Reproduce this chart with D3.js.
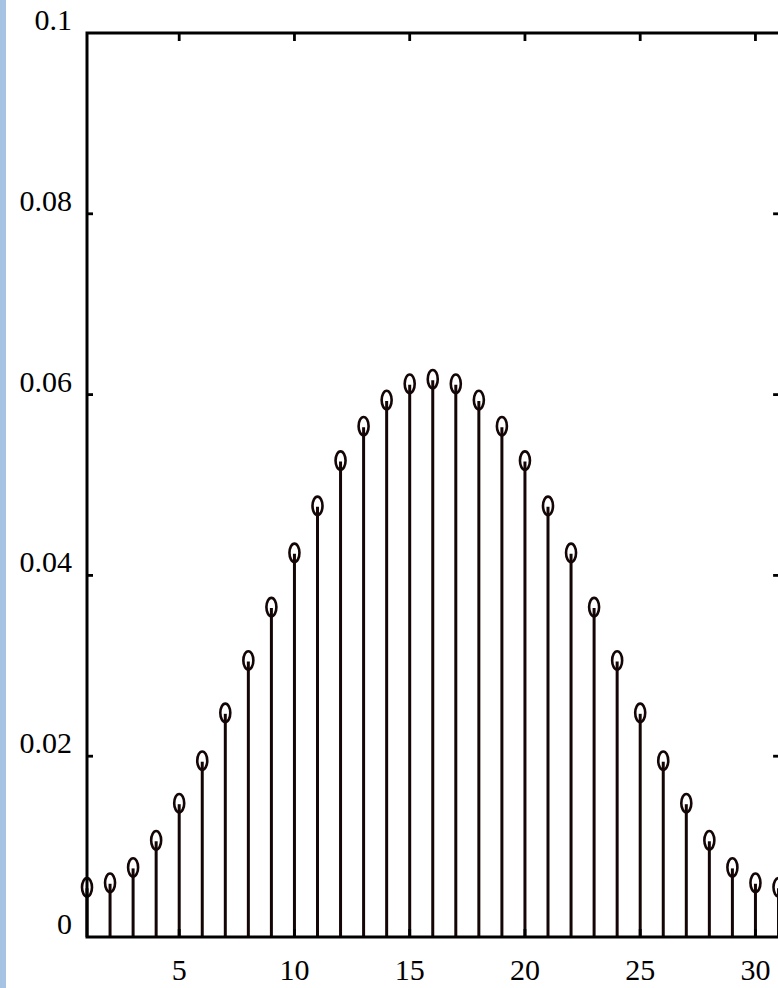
<!DOCTYPE html>
<html>
<head>
<meta charset="utf-8">
<script src="https://cdn.jsdelivr.net/npm/d3@7"></script>
<style>
  html, body { margin: 0; padding: 0; background: #fff; }
  svg { display: block; overflow: hidden; }
</style>
</head>
<body>
<script>
// Stem plot of a symmetric discrete distribution over n = 1..31
const positions = d3.range(1, 32);
const probabilities = [
  0.0055, 0.0060, 0.0077, 0.0107, 0.0148, 0.0195, 0.0248, 0.0306,
  0.0365, 0.0425, 0.0477, 0.0527, 0.0565, 0.0594, 0.0612, 0.0617,
  0.0612, 0.0594, 0.0565, 0.0527, 0.0477, 0.0425, 0.0365, 0.0306,
  0.0248, 0.0195, 0.0148, 0.0107, 0.0077, 0.0060, 0.0055
];
const xTickValues = [5, 10, 15, 20, 25, 30];
const yTickValues = [0, 0.02, 0.04, 0.06, 0.08, 0.1];
const yTickLabels = ["0", "0.02", "0.04", "0.06", "0.08", "0.1"];

const W = 778, H = 988;
const plotLeft = 87, plotTop = 33, plotBottom = 937;
const xMax = 31.2;
const x = d3.scaleLinear().domain([1, xMax]).range([plotLeft, plotLeft + (xMax - 1) * 23.05]);
const y = d3.scaleLinear().domain([0, 0.1]).range([plotBottom, plotTop]);
const plotRight = x(xMax);

const svg = d3.select("body").append("svg")
  .attr("width", W).attr("height", H);

// side strip
svg.append("rect").attr("x", 0).attr("y", 0).attr("width", 6).attr("height", H)
  .attr("fill", "#a6c3e4");

const ink = "#140606";
const font = "'Liberation Serif', 'Times New Roman', serif";

// stems
svg.append("g").selectAll("line").data(positions).join("line")
  .attr("x1", d => x(d)).attr("x2", d => x(d))
  .attr("y1", y(0)).attr("y2", (d, i) => y(probabilities[i]) + 1)
  .attr("stroke", ink).attr("stroke-width", 3);

// markers
svg.append("g").selectAll("ellipse").data(positions).join("ellipse")
  .attr("cx", d => x(d)).attr("cy", (d, i) => y(probabilities[i]))
  .attr("rx", 5).attr("ry", 9.2)
  .attr("fill", "none").attr("stroke", ink).attr("stroke-width", 2.6);

// inward ticks on all four sides
const tickLen = 8;
const ticks = svg.append("g").attr("stroke", "#000").attr("stroke-width", 2.8);
xTickValues.forEach(v => {
  ticks.append("line").attr("x1", x(v)).attr("x2", x(v))
    .attr("y1", plotTop).attr("y2", plotTop + tickLen);
  ticks.append("line").attr("x1", x(v)).attr("x2", x(v))
    .attr("y1", plotBottom).attr("y2", plotBottom - tickLen);
});
yTickValues.slice(1, -1).forEach(v => {
  ticks.append("line").attr("x1", plotLeft).attr("x2", plotLeft + tickLen - 2)
    .attr("y1", y(v)).attr("y2", y(v));
  ticks.append("line").attr("x1", plotRight).attr("x2", plotRight - tickLen - 2)
    .attr("y1", y(v)).attr("y2", y(v));
});

// frame
svg.append("rect").attr("x", plotLeft).attr("y", plotTop)
  .attr("width", plotRight - plotLeft).attr("height", plotBottom - plotTop)
  .attr("fill", "none").attr("stroke", "#000").attr("stroke-width", 3);

// tick labels
svg.append("g").selectAll("text").data(yTickValues).join("text")
  .attr("x", 72).attr("y", d => y(d) - 3)
  .attr("text-anchor", "end")
  .attr("font-family", font).attr("font-size", 30).attr("fill", "#000")
  .text((d, i) => yTickLabels[i]);

svg.append("g").selectAll("text").data(xTickValues).join("text")
  .attr("x", d => x(d)).attr("y", plotBottom + 43)
  .attr("text-anchor", "middle")
  .attr("font-family", font).attr("font-size", 30).attr("fill", "#000")
  .text(d => d);
</script>
</body>
</html>
